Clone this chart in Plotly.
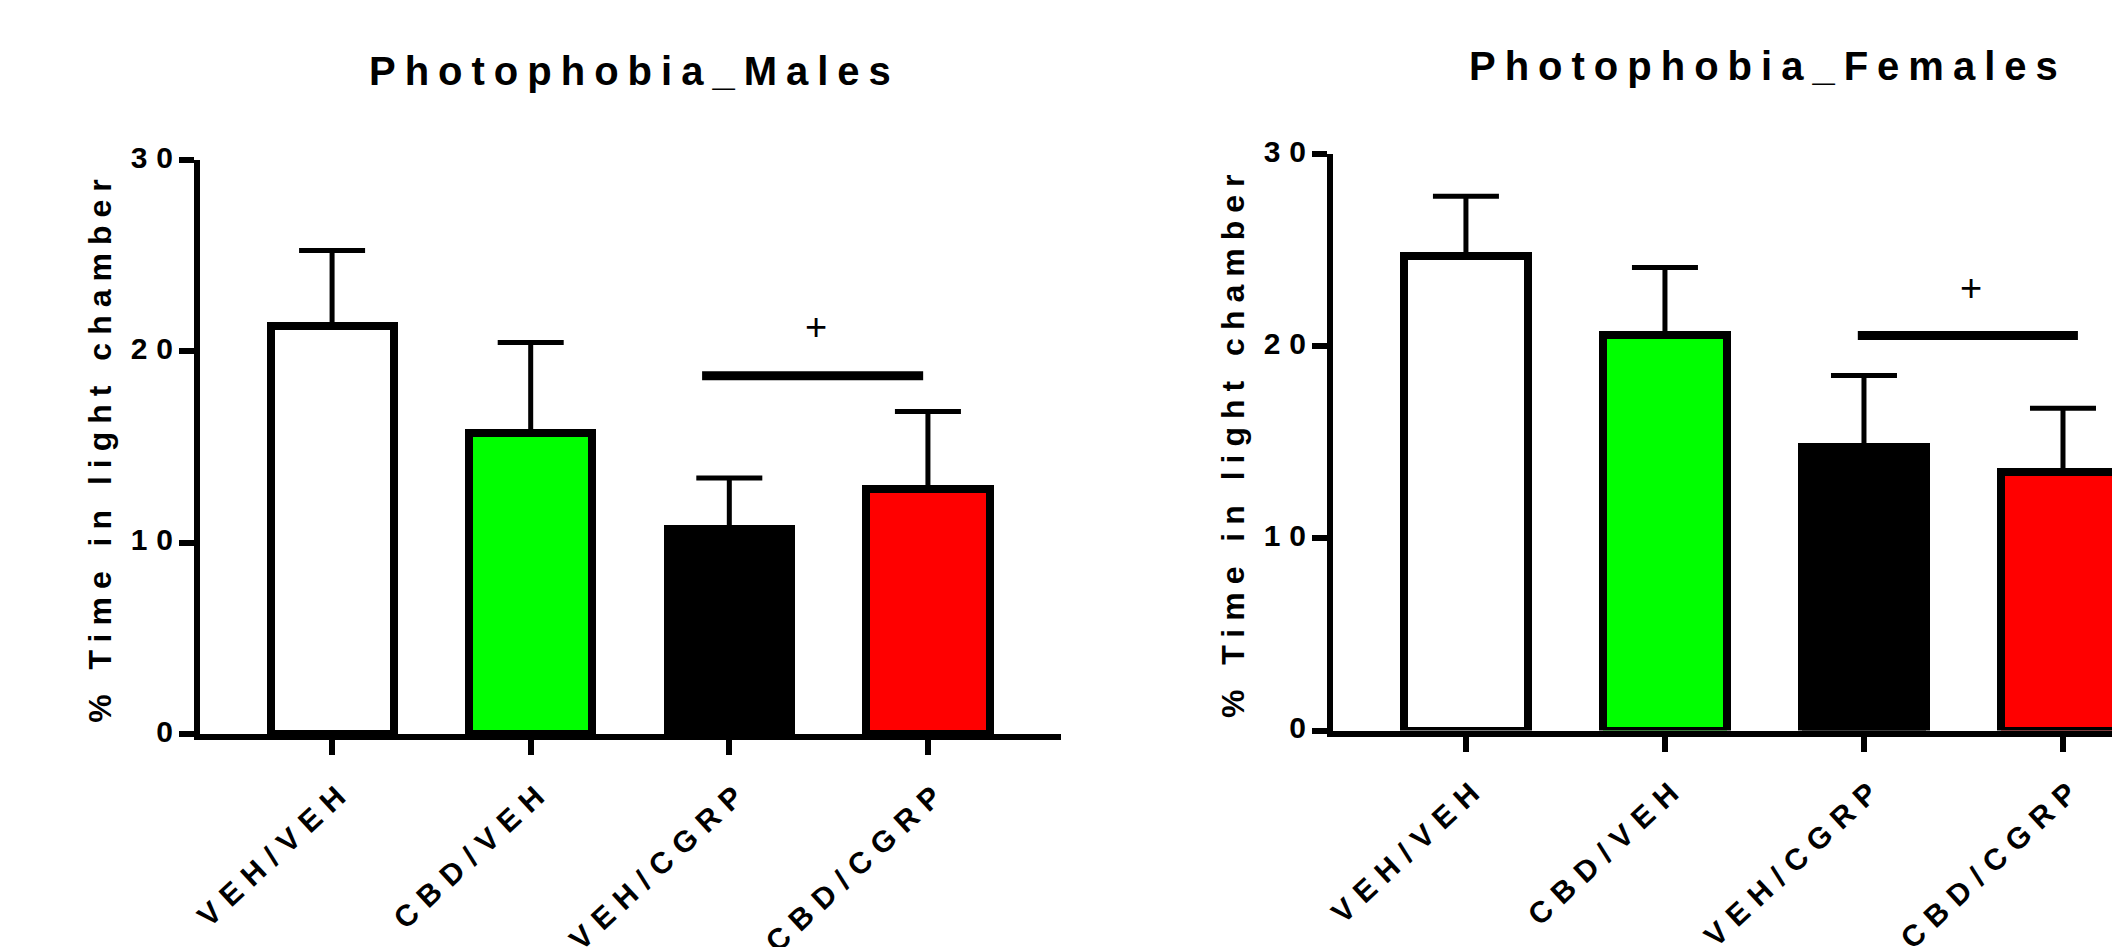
import plotly.graph_objects as go

categories = ["VEH/VEH", "CBD/VEH", "VEH/CGRP", "CBD/CGRP"]
bar_colors = ["#FFFFFF", "#00FF00", "#000000", "#FF0000"]

males_mean = [21.35, 15.75, 10.7, 12.8]
males_sem = [3.92, 4.71, 2.68, 4.06]
females_mean = [24.7, 20.6, 14.75, 13.45]
females_sem = [3.1, 3.5, 3.72, 3.32]

y_ticks = [0, 10, 20, 30]

# significance bars: (x start, x end, y) in category units / data values
males_sig = {"x": [1.863, 2.976], "y": 18.72, "label": "+", "lx": 2.435, "ly": 21.25}
females_sig = {"x": [1.969, 3.075], "y": 20.56, "label": "+", "lx": 2.54, "ly": 23.05}

FONT = "Liberation Sans, Arial, sans-serif"
W, H = 2120, 947
OFF = 8  # page body margin offset (px)


def spaced(s, ls):
    return f'<span style="letter-spacing:{ls}px">{s}</span>'


def spaced_nolast(s, ls):
    if len(s) < 2:
        return s
    return f'<span style="letter-spacing:{ls}px">{s[:-1]}</span>{s[-1]}'


def px_x(p):
    return (p - OFF) / W


def px_y(p):
    return 1 - (p - OFF) / H


fig = go.Figure()


def add_panel(means, sems, xa, ya, sig):
    fig.add_trace(go.Bar(
        x=list(range(len(categories))), y=means,
        marker=dict(color=bar_colors, line=dict(color="black", width=8)),
        width=0.62,
        error_y=dict(type="data", symmetric=False, array=sems,
                     arrayminus=[0] * len(sems), color="black",
                     thickness=5, width=33),
        xaxis=xa, yaxis=ya, showlegend=False, hoverinfo="x+y",
    ))
    fig.add_trace(go.Scatter(
        x=sig["x"], y=[sig["y"], sig["y"]], mode="lines",
        line=dict(color="black", width=9),
        xaxis=xa, yaxis=ya, showlegend=False, hoverinfo="skip",
    ))
    fig.add_annotation(x=sig["lx"], y=sig["ly"], xref=xa, yref=ya,
                       text=sig["label"], showarrow=False,
                       xanchor="center", yanchor="middle",
                       font=dict(family=FONT, size=38, color="black"))


add_panel(males_mean, males_sem, "x", "y", males_sig)
add_panel(females_mean, females_sem, "x2", "y2", females_sig)

xcommon = dict(
    tickmode="array", tickvals=list(range(len(categories))),
    ticktext=[spaced(c, 9.5) for c in categories],
    tickangle=-43, showline=True, linecolor="black", linewidth=6,
    ticks="outside", ticklen=15, tickwidth=6, tickcolor="black",
    showgrid=False, zeroline=False, automargin=False,
    ticklabelstandoff=6, ticklabelshift=12,
    tickfont=dict(family=FONT, size=30, color="black", weight="bold"),
)
ycommon = dict(
    range=[0, 30], tickmode="array", tickvals=y_ticks,
    ticktext=[spaced_nolast(str(v), 9) for v in y_ticks],
    showline=True, linecolor="black", linewidth=6,
    ticks="outside", ticklen=15, tickwidth=6, tickcolor="black",
    showgrid=False, zeroline=False, ticklabelstandoff=0, ticklabelshift=-3,
    automargin=False,
    tickfont=dict(family=FONT, size=30, color="black", weight="bold"),
    title=dict(text=spaced("% Time in light chamber", 8), standoff=11,
               font=dict(family=FONT, size=32, color="black", weight="bold")),
)

# pixel layout (window coords): left plot x 200-1061, y 160-734; right x 1333-edge, y 154-730.5
x2_end = (W + OFF - 1466) / 199.0

fig.update_layout(
    width=W, height=H, margin=dict(l=0, r=0, t=0, b=0, autoexpand=False),
    paper_bgcolor="white", plot_bgcolor="white", bargap=0,
    xaxis=dict(domain=[px_x(200), px_x(1061)], range=[-0.665, 3.67], anchor="y", **xcommon),
    yaxis=dict(domain=[px_y(734), px_y(160)], anchor="x", **ycommon),
    xaxis2=dict(domain=[px_x(1333), 1.0], range=[-0.668, x2_end], anchor="y2", **xcommon),
    yaxis2=dict(domain=[px_y(730.5), px_y(154)], anchor="x2", **ycommon),
)

fig.add_annotation(x=px_x(630), y=px_y(71), xref="paper", yref="paper",
                   xanchor="center", yanchor="middle",
                   text=spaced_nolast("Photophobia_Males", 9), showarrow=False,
                   font=dict(family=FONT, size=40, color="black", weight="bold"))
fig.add_annotation(x=px_x(1763), y=px_y(66), xref="paper", yref="paper",
                   xanchor="center", yanchor="middle",
                   text=spaced_nolast("Photophobia_Females", 9), showarrow=False,
                   font=dict(family=FONT, size=40, color="black", weight="bold"))

fig.write_html("out.html")
